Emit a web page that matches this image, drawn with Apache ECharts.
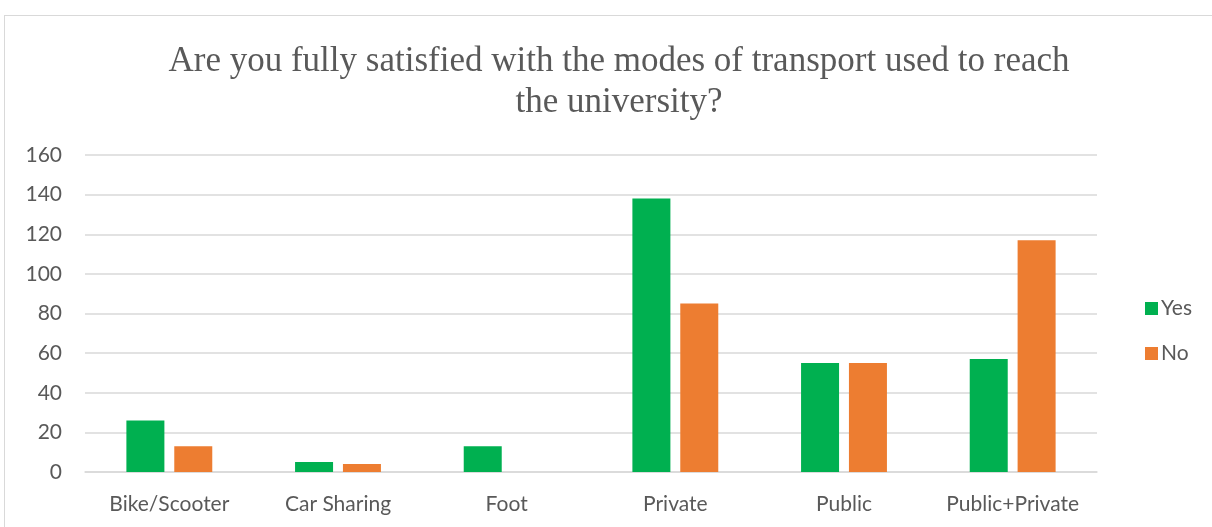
<!DOCTYPE html>
<html>
<head>
<meta charset="utf-8">
<script src="https://cdn.jsdelivr.net/npm/echarts@6/dist/echarts.min.js"></script>
<style>
  html, body { margin: 0; padding: 0; background: #fff; overflow: hidden; }
  #frame { position: absolute; left: 4px; top: 15px; width: 1300px; height: 600px; border: 1px solid #d9d9d9; box-sizing: border-box; }
  #chart { position: absolute; left: 0; top: 0; width: 1212px; height: 527px; }
</style>
</head>
<body>
<div id="frame"></div>
<div id="chart"></div>
<script>
const categories = ['Bike/Scooter', 'Car Sharing', 'Foot', 'Private', 'Public', 'Public+Private'];
const yesValues = [26, 5, 13, 138, 55, 57];
const noValues = [13, 4, 0, 85, 55, 117];
const titleText = 'Are you fully satisfied with the modes of transport used to reach\nthe university?';

const chart = echarts.init(document.getElementById('chart'), null, { renderer: 'canvas' });
const labelFont = 'Lato, "Open Sans", sans-serif';

chart.setOption({
  animation: false,
  backgroundColor: 'transparent',
  title: {
    text: titleText,
    left: 614,
    textAlign: 'center',
    top: 36,
    textStyle: {
      fontFamily: '"Liberation Serif", "DejaVu Serif", serif',
      fontWeight: 'normal',
      fontSize: 35,
      lineHeight: 41,
      color: '#595959'
    }
  },
  legend: {
    orient: 'vertical',
    left: 1140,
    top: 293,
    itemWidth: 13,
    itemHeight: 13,
    itemGap: 24,
    icon: 'rect',
    textStyle: { fontFamily: labelFont, fontSize: 21, color: '#595959', padding: [0, 0, 0, -2] },
    data: ['Yes', 'No']
  },
  grid: { left: 85, right: 115, top: 155, bottom: 55 },
  xAxis: {
    type: 'category',
    data: categories,
    axisLine: { lineStyle: { color: '#d9d9d9', width: 1.5 } },
    axisTick: { show: false },
    axisLabel: { interval: 0, hideOverlap: false, fontFamily: labelFont, fontSize: 21, color: '#595959', margin: 22 }
  },
  yAxis: {
    type: 'value',
    min: 0,
    max: 160,
    interval: 20,
    axisLine: { show: false },
    axisTick: { show: false },
    splitLine: { lineStyle: { color: '#d9d9d9', width: 1.5 } },
    axisLabel: { fontFamily: labelFont, fontSize: 21, color: '#595959', margin: 23 }
  },
  series: [
    {
      name: 'Yes',
      type: 'bar',
      data: yesValues,
      barWidth: 38,
      barGap: '26%',
      itemStyle: { color: '#00B050' }
    },
    {
      name: 'No',
      type: 'bar',
      data: noValues,
      barWidth: 38,
      itemStyle: { color: '#ED7D31' }
    }
  ]
});
</script>
</body>
</html>
